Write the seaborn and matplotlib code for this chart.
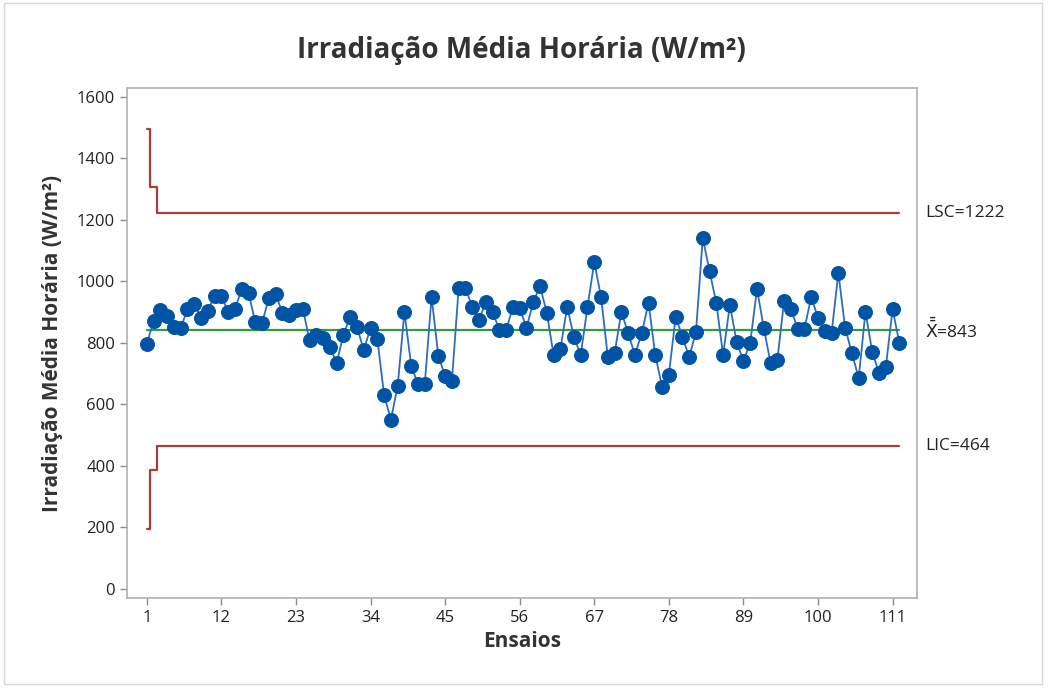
import numpy as np
import pandas as pd
import matplotlib
matplotlib.use("Agg")
import matplotlib.pyplot as plt
import seaborn as sns

# individual readings (W/m2), trials 1..112
irradiacao = [
    797, 871, 907, 888, 852, 849, 910, 927, 881, 904, 953, 953, 901, 910, 976, 963,
    868, 865, 946, 959, 898, 891, 907, 912, 810, 826, 816, 787, 735, 826, 885, 852,
    777, 849, 813, 631, 550, 660, 901, 725, 667, 667, 950, 758, 693, 676, 979, 979,
    917, 875, 933, 901, 842, 842, 917, 914, 849, 933, 985, 898, 761, 780, 917, 820,
    761, 917, 1063, 950, 754, 767, 901, 832, 761, 832, 930, 761, 657, 696, 885, 820,
    754, 836, 1141, 1034, 930, 761, 924, 803, 741, 800, 976, 849, 735, 745, 937, 910,
    846, 846, 950, 881, 839, 832, 1028, 849, 767, 686, 901, 771, 702, 722, 910, 800,
]
ensaios = list(range(1, len(irradiacao) + 1))

media = 843
lsc = [1495, 1308] + [1222] * (len(ensaios) - 2)
lic = [195, 387] + [464] * (len(ensaios) - 2)
xticks = [1, 12, 23, 34, 45, 56, 67, 78, 89, 100, 111]
yticks = [0, 200, 400, 600, 800, 1000, 1200, 1400, 1600]

df = pd.DataFrame({"ensaio": ensaios, "valor": irradiacao, "lsc": lsc, "lic": lic,
                   "media": [media] * len(ensaios)})

sns.set_style("white")
plt.rcParams['font.family'] = ['Open Sans', 'DejaVu Sans']

fig = plt.figure(figsize=(10.48, 6.88), dpi=100)
ax = fig.add_axes([0.121, 0.131, 0.754, 0.741])

red = "#B03A3A"
sns.lineplot(data=df, x="ensaio", y="lsc", ax=ax, color=red, lw=1.6, drawstyle="steps-mid")
sns.lineplot(data=df, x="ensaio", y="lic", ax=ax, color=red, lw=1.6, drawstyle="steps-mid")
sns.lineplot(data=df, x="ensaio", y="media", ax=ax, color="#2E9E3A", lw=1.6)
sns.lineplot(data=df, x="ensaio", y="valor", ax=ax, color="#2F6DB8", lw=1.3,
             marker="o", markersize=10, markerfacecolor="#0054A6",
             markeredgecolor="#0054A6")

ax.set_xlim(-1.95, 114.6)
ax.set_ylim(-29, 1629)
ax.set_xticks(xticks)
ax.set_yticks(yticks)
ax.tick_params(axis="both", labelsize=12, length=5, width=1, color="#8C8C8C",
               direction="out", bottom=True, left=True, colors="#8C8C8C",
               labelcolor="#222222")
for s in ax.spines.values():
    s.set_color("#B0B0B0")
    s.set_linewidth(1.2)

ax.set_title("Irradiação Média Horária (W/m²)", fontsize=20, fontweight="bold",
             color="#333333", pad=22)
ax.set_xlabel("Ensaios", fontsize=15, fontweight="bold", color="#333333", labelpad=4)
ax.set_ylabel("Irradiação Média Horária (W/m²)", fontsize=15, fontweight="bold",
              color="#333333", labelpad=10)

ax.text(1.01, 1222, "LSC=1222", transform=ax.get_yaxis_transform(),
        va="center", ha="left", fontsize=12.5, color="#222222")
ax.text(1.01, media, r"$\bar{\bar{\mathrm{X}}}$=843", transform=ax.get_yaxis_transform(),
        va="center", ha="left", fontsize=12.5, color="#222222")
ax.text(1.01, 464, "LIC=464", transform=ax.get_yaxis_transform(),
        va="center", ha="left", fontsize=12.5, color="#222222")

fig.patches.append(plt.Rectangle((0.004, 0.006), 0.99, 0.99, transform=fig.transFigure,
                                 fill=False, edgecolor="#D8D8D8", lw=1))

fig.savefig("out.png", dpi=100)
